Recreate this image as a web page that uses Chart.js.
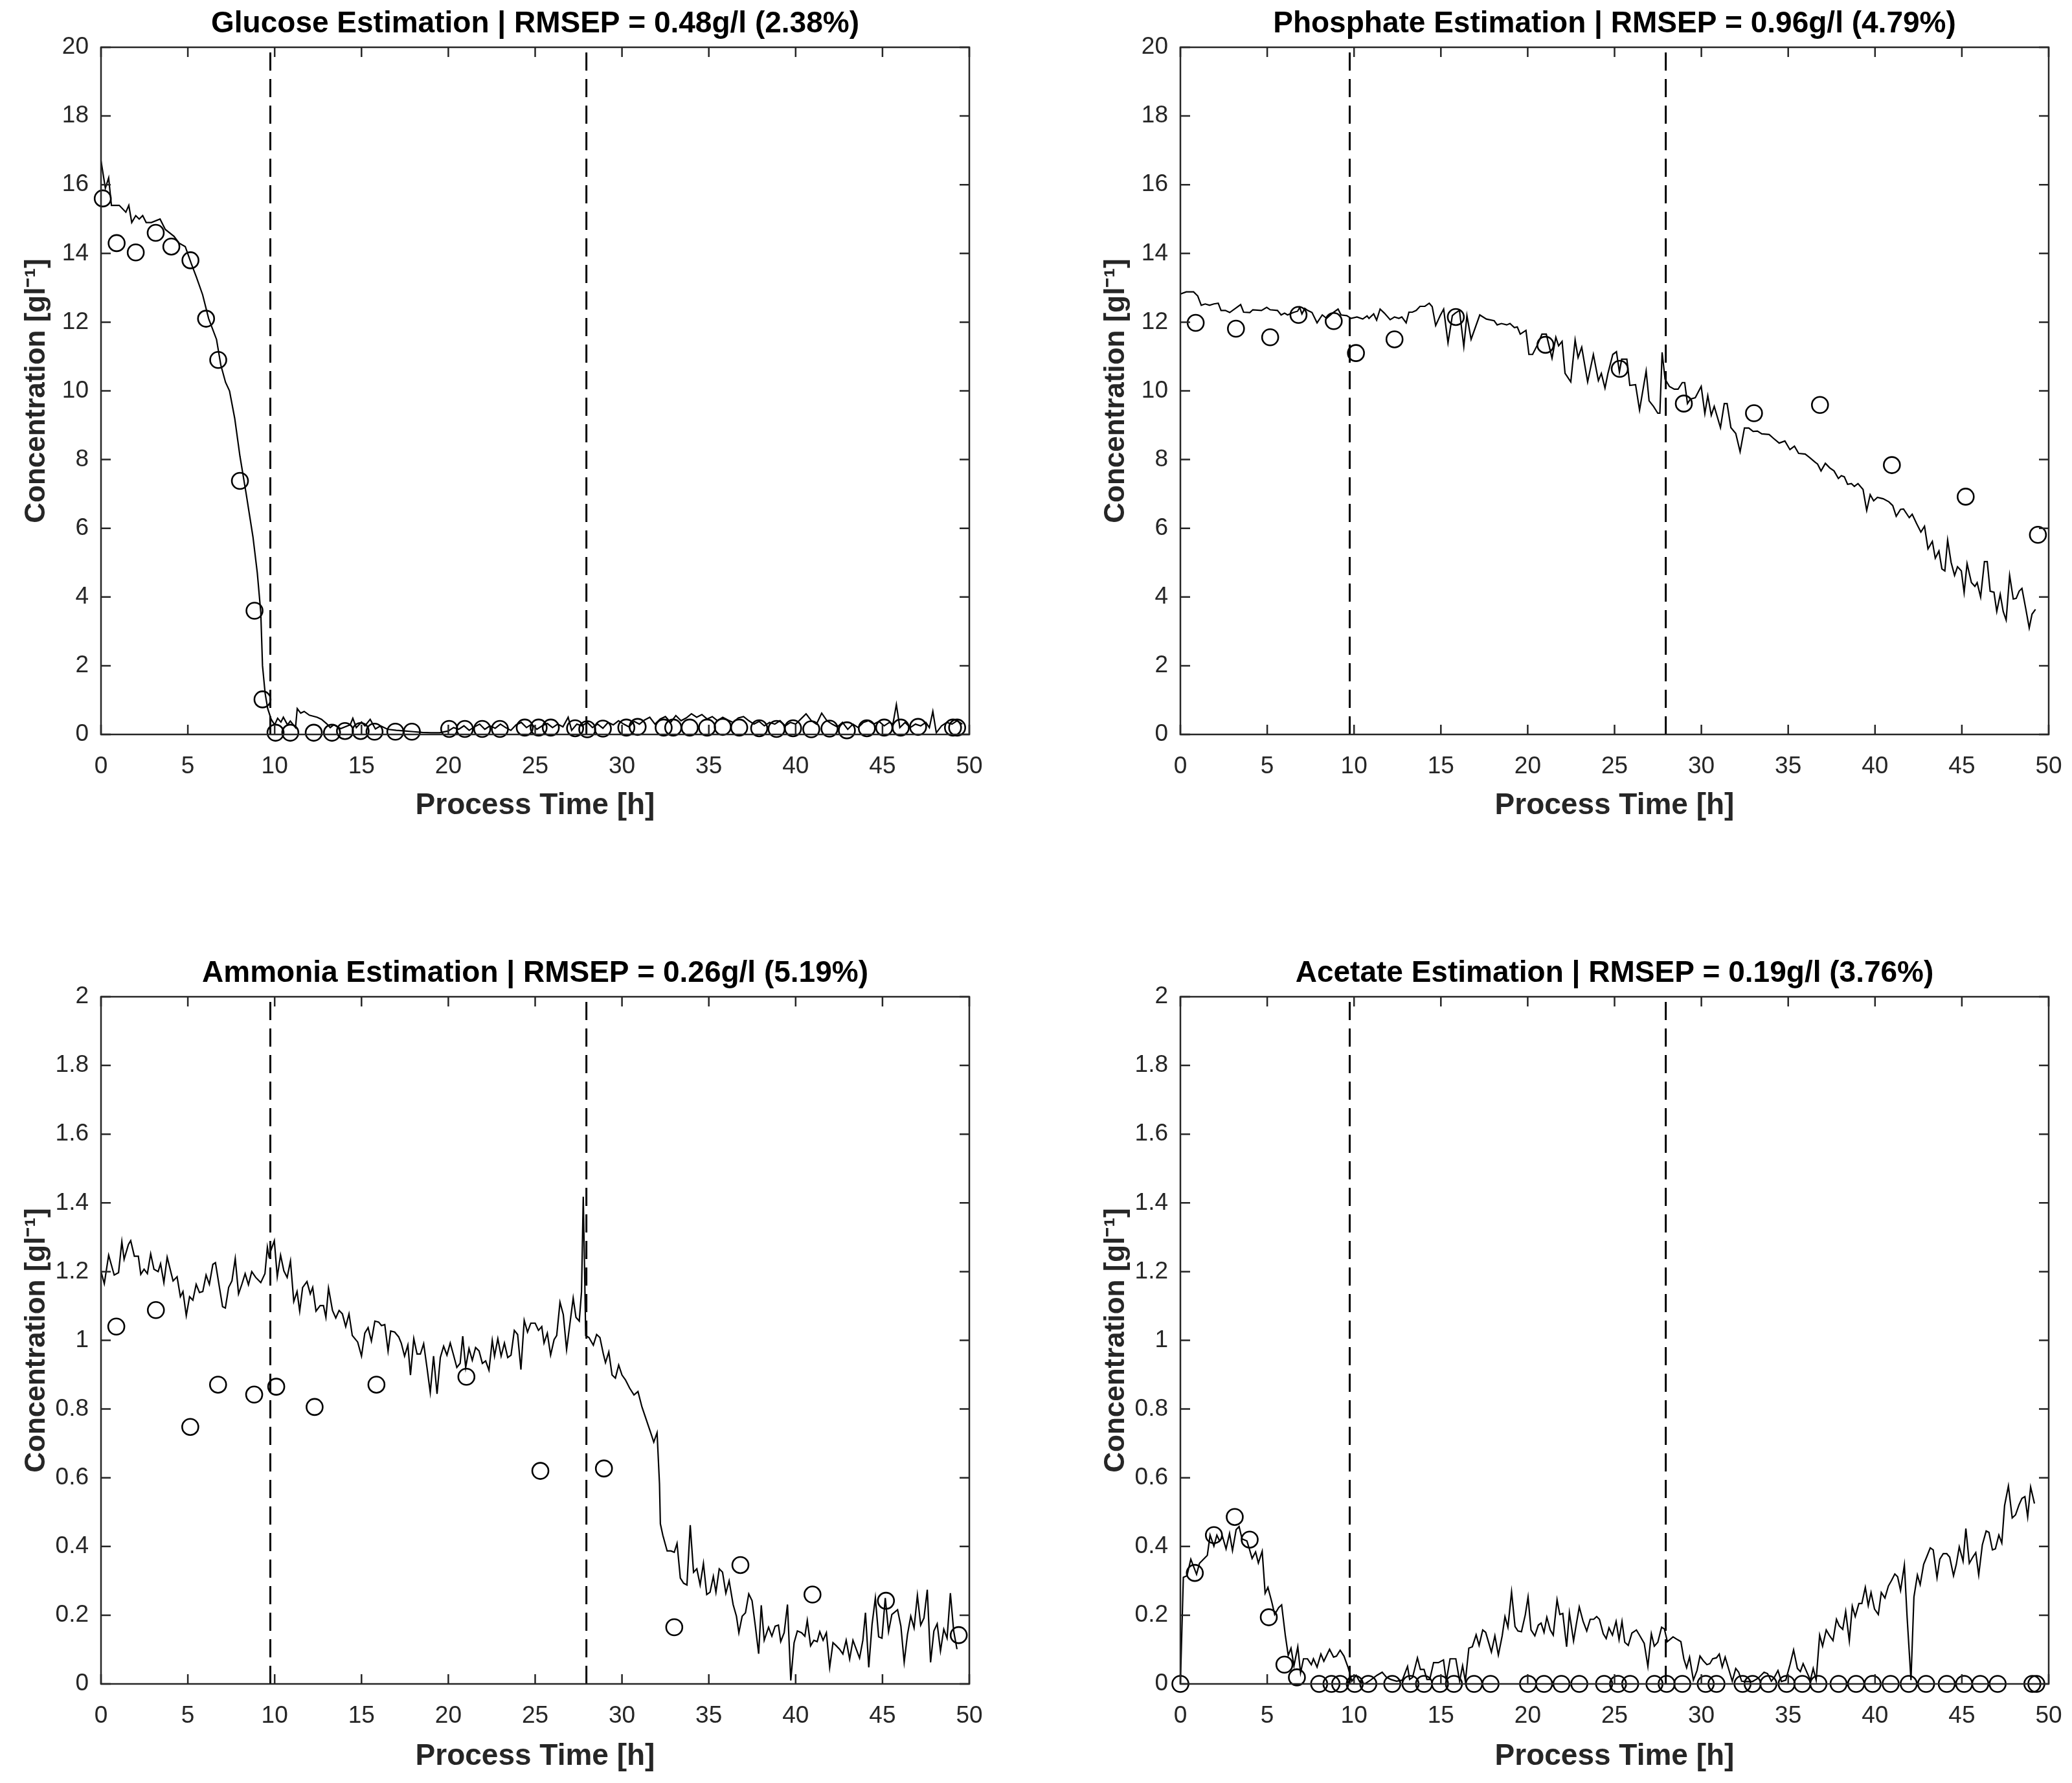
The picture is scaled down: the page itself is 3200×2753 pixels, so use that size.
<!DOCTYPE html>
<html lang="en">
<head>
<meta charset="UTF-8">
<title>Soft-sensor estimation of glucose, phosphate, ammonia and acetate</title>
<script src="https://cdn.jsdelivr.net/npm/chart.js"></script>
<style>
    html, body {
        margin: 0;
        padding: 0;
        background: #fff;
        overflow: hidden;
    }
    #page {
        position: relative;
        width: 3200px;
        height: 2753px;
        background: #fff;
        overflow: hidden;
    }
    #page canvas {
        position: absolute;
    }
</style>
</head>
<body>
<div id="page">
    <canvas id="glucose" width="1552" height="1300" style="left:0;top:0"></canvas>
    <canvas id="phosphate" width="1552" height="1300" style="left:1667px;top:0"></canvas>
    <canvas id="ammonia" width="1552" height="1287" style="left:0;top:1466px"></canvas>
    <canvas id="acetate" width="1552" height="1287" style="left:1667px;top:1466px"></canvas>
</div>

<script>
// phase boundaries [h]
const phaseBounds = [9.75, 27.95];

// ---- glucose ----
const glucoseTime = [0, 0.25, 0.44, 0.6, 1.05, 1.43, 1.6, 1.77, 2.0, 2.2, 2.4, 2.6, 2.9, 3.4, 3.7, 4.2, 4.5, 4.85, 5.2, 5.5,
    5.85, 6.2, 6.65, 6.9, 7.17, 7.4, 7.7, 8.0, 8.36, 8.75, 9.0, 9.2, 9.3, 9.45, 9.6, 9.8, 10.0, 10.17, 10.36, 10.5,
    10.74, 10.9, 11.2, 11.3, 11.5, 11.7, 12.0, 12.45, 12.7, 13.0, 13.2, 13.4, 13.8, 14.35, 14.5, 14.7, 15.0, 15.2, 15.5, 15.8,
    16.1, 16.5, 17.0, 17.5, 18.0, 18.5, 19.0, 19.5, 20.0, 20.3, 20.6, 20.9, 21.2, 21.5, 21.8, 22.1, 22.4, 22.7, 23.0, 23.3,
    23.6, 23.9, 24.2, 24.5, 24.8, 25.1, 25.4, 25.7, 26.0, 26.3, 26.6, 26.9, 27.1, 27.4, 27.7, 28.0, 28.3, 28.6, 28.9, 29.2,
    29.5, 29.8, 30.1, 30.4, 30.7, 31.0, 31.3, 31.6, 31.9, 32.2, 32.5, 32.8, 33.1, 33.4, 33.7, 34.0, 34.3, 34.6, 34.9, 35.2,
    35.5, 35.8, 36.1, 36.4, 36.7, 37.0, 37.3, 37.6, 37.9, 38.2, 38.5, 38.8, 39.1, 39.4, 39.7, 40.0, 40.3, 40.6, 40.9, 41.2,
    41.5, 41.8, 42.1, 42.4, 42.7, 43.0, 43.3, 43.6, 43.9, 44.2, 44.5, 44.8, 45.1, 45.4, 45.6, 45.8, 46.0, 46.3, 46.6, 46.9,
    47.2, 47.5, 47.7, 47.9, 48.1, 48.4, 48.7, 49.0, 49.3, 49.6];
const glucoseEst = [16.7, 15.9, 16.2, 15.4, 15.4, 15.2, 15.4, 14.9, 15.1, 15.0, 15.1, 14.9, 14.9, 15.0, 14.7, 14.5, 14.3, 14.2, 13.7, 13.3,
    12.8, 12.1, 11.5, 10.75, 10.25, 10.0, 9.2, 8.1, 7.0, 5.75, 4.7, 3.55, 2.0, 1.2, 0.75, 0.44, 0.28, 0.47, 0.36, 0.5,
    0.28, 0.39, 0.2, 0.75, 0.62, 0.67, 0.56, 0.5, 0.44, 0.31, 0.2, 0.28, 0.17, 0.28, 0.47, 0.2, 0.36, 0.25, 0.44, 0.16,
    0.25, 0.15, 0.12, 0.1, 0.08, 0.06, 0.05, 0.05, 0.1, 0.2, 0.15, 0.25, 0.12, 0.22, 0.3, 0.15, 0.25, 0.18, 0.3, 0.2,
    0.12, 0.28, 0.35, 0.2, 0.3, 0.15, 0.25, 0.32, 0.2, 0.3, 0.22, 0.5, 0.12, 0.3, 0.25, 0.35, 0.2, 0.3, 0.18, 0.35,
    0.28, 0.4, 0.3, 0.22, 0.38, 0.3, 0.42, 0.5, 0.3, 0.45, 0.52, 0.35, 0.55, 0.4, 0.48, 0.6, 0.5, 0.58, 0.45, 0.52,
    0.4, 0.5, 0.42, 0.35, 0.48, 0.52, 0.4, 0.3, 0.38, 0.25, 0.35, 0.3, 0.4, 0.25, 0.35, 0.3, 0.45, 0.6, 0.4, 0.3,
    0.62, 0.4, 0.3, 0.22, 0.35, 0.15, 0.3, 0.2, 0.35, 0.4, 0.3, 0.38, 0.25, 0.35, 0.3, 0.87, 0.2, 0.35, 0.2, 0.3,
    0.25, 0.35, 0.2, 0.67, 0.05, 0.25, 0.35, 0.3, 0.4, 0.3];
const glucoseMeasTime = [0.1, 0.9, 2.0, 3.15, 4.05, 5.15, 6.05, 6.75, 8.0, 8.84, 9.3, 10.05, 10.9, 12.25, 13.3, 14.05, 14.95, 15.75, 16.95, 17.9,
    20.05, 20.95, 21.95, 22.97, 24.4, 25.2, 25.9, 27.3, 28.0, 28.9, 30.25, 30.9, 32.4, 32.95, 33.9, 34.9, 35.8, 36.75, 37.9, 38.9,
    39.85, 40.9, 41.95, 42.95, 44.1, 45.1, 46.05, 47.05, 49.06, 49.3];
const glucoseMeas = [15.6, 14.3, 14.03, 14.6, 14.2, 13.8, 12.1, 10.9, 7.38, 3.6, 1.02, 0.05, 0.05, 0.05, 0.05, 0.1, 0.1, 0.08, 0.08, 0.08,
    0.16, 0.16, 0.16, 0.16, 0.2, 0.2, 0.2, 0.18, 0.15, 0.17, 0.2, 0.22, 0.2, 0.2, 0.2, 0.2, 0.22, 0.2, 0.18, 0.16,
    0.18, 0.15, 0.17, 0.12, 0.18, 0.2, 0.2, 0.22, 0.2, 0.2];

// ---- phosphate ----
const phosphateTime = [0, 0.34, 0.76, 1.0, 1.2, 1.43, 1.68, 1.93, 2.18, 2.34, 2.59, 2.84, 3.17, 3.47, 3.64, 4.0, 4.17, 4.67, 4.97, 5.17,
    5.59, 5.8, 6.0, 6.17, 6.5, 6.75, 6.87, 7.0, 7.16, 7.33, 7.58, 7.87, 8.17, 8.42, 8.75, 9.08, 9.25, 9.58, 9.83, 10.17,
    10.5, 10.75, 10.86, 11.13, 11.3, 11.5, 11.75, 12.08, 12.33, 12.58, 12.75, 13.0, 13.16, 13.36, 13.58, 13.8, 14.08, 14.33, 14.5, 14.7,
    14.96, 15.16, 15.41, 15.66, 15.82, 16.07, 16.32, 16.5, 16.74, 17.24, 17.62, 18.07, 18.24, 18.49, 18.79, 18.98, 19.23, 19.4, 19.57, 19.9,
    20.07, 20.28, 20.57, 20.82, 21.07, 21.4, 21.62, 21.78, 21.98, 22.15, 22.48, 22.73, 22.9, 23.11, 23.45, 23.78, 24.07, 24.24, 24.45, 24.62,
    24.9, 25.11, 25.28, 25.41, 25.71, 25.88, 26.21, 26.44, 26.82, 26.99, 27.24, 27.49, 27.61, 27.74, 27.91, 28.16, 28.44, 28.66, 28.9, 29.04,
    29.2, 29.37, 29.65, 29.99, 30.2, 30.37, 30.57, 30.74, 31.1, 31.32, 31.48, 31.7, 31.98, 32.23, 32.48, 32.73, 32.98, 33.23, 33.48, 33.9,
    34.15, 34.48, 34.81, 35.1, 35.36, 35.6, 35.98, 36.23, 36.56, 36.69, 36.89, 37.14, 37.39, 37.64, 37.89, 38.06, 38.23, 38.42, 38.64, 38.81,
    39.02, 39.31, 39.52, 39.72, 39.92, 40.14, 40.47, 40.8, 41.02, 41.22, 41.47, 41.64, 41.97, 42.14, 42.39, 42.64, 42.85, 43.05, 43.3, 43.47,
    43.68, 43.85, 44.02, 44.18, 44.38, 44.58, 44.75, 44.97, 45.13, 45.3, 45.55, 45.75, 45.88, 46.08, 46.3, 46.46, 46.63, 46.85, 47.01, 47.21,
    47.38, 47.55, 47.75, 47.96, 48.13, 48.3, 48.46, 48.68, 48.88, 49.04, 49.24];
const phosphateEst = [12.82, 12.88, 12.88, 12.76, 12.49, 12.53, 12.49, 12.53, 12.55, 12.34, 12.34, 12.28, 12.4, 12.51, 12.29, 12.28, 12.36, 12.34, 12.43, 12.36,
    12.34, 12.21, 12.26, 12.21, 12.28, 12.32, 12.43, 12.24, 12.4, 12.34, 12.28, 11.98, 12.21, 12.11, 12.26, 12.38, 12.21, 12.19, 12.11, 12.15,
    12.09, 12.18, 12.11, 12.24, 12.06, 12.38, 12.26, 12.07, 12.15, 12.11, 12.15, 11.98, 12.29, 12.29, 12.34, 12.46, 12.46, 12.55, 12.45, 11.9,
    12.19, 12.38, 11.4, 12.19, 12.26, 12.34, 11.29, 12.19, 11.5, 12.21, 12.09, 12.04, 11.92, 11.96, 11.92, 11.96, 11.84, 11.86, 11.65, 11.76,
    11.06, 11.06, 11.35, 11.65, 11.65, 10.95, 11.56, 11.31, 11.44, 10.51, 10.26, 11.48, 10.97, 11.27, 10.26, 11.06, 10.3, 10.51, 10.08, 10.51,
    11.06, 11.14, 10.55, 10.92, 10.92, 10.16, 10.18, 9.44, 10.58, 9.71, 9.55, 9.35, 9.35, 11.12, 10.34, 10.13, 10.05, 10.05, 10.24, 10.24,
    9.63, 9.76, 9.8, 10.13, 9.34, 9.86, 9.29, 9.55, 8.93, 9.63, 9.63, 8.93, 8.76, 8.23, 8.92, 8.92, 8.82, 8.83, 8.75, 8.73,
    8.62, 8.48, 8.54, 8.29, 8.39, 8.18, 8.16, 8.06, 7.92, 7.87, 7.67, 7.89, 7.76, 7.67, 7.45, 7.53, 7.5, 7.28, 7.3, 7.22,
    7.3, 7.13, 6.52, 6.98, 6.8, 6.9, 6.86, 6.77, 6.66, 6.35, 6.55, 6.56, 6.31, 6.41, 6.14, 5.89, 6.06, 5.4, 5.62, 5.13,
    5.34, 4.82, 4.76, 5.66, 5.01, 4.63, 4.88, 4.76, 4.13, 4.97, 4.42, 4.31, 4.42, 4.0, 5.03, 5.03, 4.17, 4.14, 3.58, 4.08,
    3.58, 3.33, 4.63, 3.94, 3.96, 4.17, 4.25, 3.66, 3.1, 3.5, 3.64];
const phosphateMeasTime = [0.88, 3.2, 5.17, 6.8, 8.83, 10.11, 12.33, 15.86, 21.02, 25.3, 28.99, 33.03, 36.83, 40.97, 45.22, 49.38];
const phosphateMeas = [11.98, 11.81, 11.56, 12.21, 12.03, 11.1, 11.5, 12.15, 11.34, 10.64, 9.63, 9.35, 9.59, 7.84, 6.92, 5.81];

// ---- ammonia ----
const ammoniaTime = [0, 0.19, 0.44, 0.76, 1.01, 1.2, 1.33, 1.58, 1.71, 1.92, 2.15, 2.29, 2.48, 2.67, 2.86, 3.05, 3.29, 3.43, 3.62, 3.81,
    4.15, 4.38, 4.57, 4.72, 4.91, 5.1, 5.29, 5.48, 5.67, 5.86, 6.05, 6.24, 6.44, 6.59, 6.82, 7.0, 7.16, 7.35, 7.54, 7.73,
    7.92, 8.11, 8.3, 8.49, 8.68, 8.91, 9.2, 9.44, 9.58, 9.67, 9.83, 9.98, 10.15, 10.34, 10.53, 10.72, 10.91, 11.1, 11.29, 11.44,
    11.61, 11.86, 12.05, 12.19, 12.38, 12.62, 12.81, 12.95, 13.1, 13.33, 13.52, 13.71, 13.9, 14.09, 14.28, 14.47, 14.78, 15.0, 15.19, 15.38,
    15.57, 15.77, 15.99, 16.15, 16.34, 16.53, 16.68, 16.91, 17.14, 17.29, 17.48, 17.67, 17.82, 18.01, 18.2, 18.39, 18.58, 18.77, 18.96, 19.15,
    19.35, 19.54, 19.73, 19.92, 20.11, 20.3, 20.49, 20.68, 20.83, 21.0, 21.19, 21.38, 21.57, 21.77, 21.96, 22.15, 22.34, 22.53, 22.66, 22.85,
    23.04, 23.23, 23.42, 23.61, 23.8, 23.99, 24.18, 24.37, 24.56, 24.75, 25.0, 25.19, 25.38, 25.51, 25.7, 25.89, 26.09, 26.24, 26.43, 26.62,
    26.81, 27.0, 27.19, 27.35, 27.54, 27.67, 27.77, 27.86, 27.91, 28.1, 28.35, 28.54, 28.73, 28.92, 29.05, 29.24, 29.43, 29.62, 29.81, 30.0,
    30.2, 30.44, 30.69, 30.92, 31.15, 31.4, 31.64, 31.83, 32.02, 32.16, 32.21, 32.35, 32.6, 32.82, 33.01, 33.17, 33.36, 33.55, 33.74, 33.93,
    34.12, 34.31, 34.5, 34.69, 34.88, 35.07, 35.26, 35.41, 35.6, 35.79, 35.98, 36.17, 36.4, 36.59, 36.73, 36.92, 37.11, 37.3, 37.49, 37.68,
    37.87, 38.02, 38.19, 38.44, 38.63, 38.82, 39.01, 39.14, 39.34, 39.53, 39.72, 39.91, 40.1, 40.34, 40.53, 40.67, 40.86, 41.05, 41.24, 41.39,
    41.58, 41.77, 41.96, 42.15, 42.34, 42.53, 42.72, 42.91, 43.11, 43.3, 43.49, 43.68, 43.87, 44.02, 44.21, 44.4, 44.59, 44.78, 44.97, 45.16,
    45.35, 45.54, 45.87, 46.06, 46.25, 46.44, 46.63, 46.82, 47.01, 47.2, 47.39, 47.58, 47.77, 47.96, 48.15, 48.34, 48.53, 48.72, 48.91, 49.1,
    49.29];
const ammoniaEst = [1.2, 1.165, 1.248, 1.19, 1.197, 1.287, 1.236, 1.279, 1.29, 1.245, 1.245, 1.192, 1.207, 1.194, 1.252, 1.207, 1.2, 1.223, 1.168, 1.242,
    1.173, 1.185, 1.127, 1.142, 1.072, 1.127, 1.117, 1.163, 1.139, 1.142, 1.19, 1.163, 1.221, 1.226, 1.154, 1.098, 1.094, 1.154, 1.173, 1.238,
    1.135, 1.163, 1.194, 1.162, 1.2, 1.183, 1.168, 1.194, 1.271, 1.245, 1.269, 1.29, 1.185, 1.248, 1.202, 1.183, 1.231, 1.113, 1.142, 1.085,
    1.154, 1.171, 1.135, 1.154, 1.085, 1.101, 1.101, 1.067, 1.152, 1.087, 1.065, 1.087, 1.077, 1.04, 1.077, 1.014, 0.995, 0.954, 1.021, 1.037,
    0.998, 1.056, 1.053, 1.043, 1.046, 0.969, 1.027, 1.024, 1.01, 0.992, 0.954, 0.986, 0.899, 1.005, 0.96, 0.96, 0.99, 0.921, 0.848, 0.954,
    0.844, 0.95, 0.983, 0.957, 0.992, 0.957, 0.921, 0.933, 1.012, 0.921, 0.976, 0.942, 0.979, 0.969, 0.933, 0.94, 0.913, 1.0, 0.954, 1.005,
    0.954, 0.992, 0.95, 0.957, 1.029, 1.017, 0.915, 1.058, 1.024, 1.05, 1.05, 1.029, 1.04, 0.992, 1.021, 0.957, 1.002, 1.014, 1.111, 1.075,
    0.973, 1.048, 1.123, 1.067, 1.056, 1.142, 1.418, 1.163, 1.014, 1.008, 0.986, 1.017, 1.008, 0.962, 0.935, 0.966, 0.899, 0.89, 0.928, 0.899,
    0.885, 0.861, 0.841, 0.851, 0.806, 0.769, 0.733, 0.704, 0.731, 0.582, 0.466, 0.433, 0.387, 0.387, 0.383, 0.409, 0.308, 0.293, 0.288, 0.462,
    0.325, 0.335, 0.288, 0.351, 0.26, 0.267, 0.313, 0.267, 0.335, 0.325, 0.264, 0.3, 0.231, 0.197, 0.149, 0.197, 0.207, 0.262, 0.242, 0.168,
    0.088, 0.229, 0.127, 0.165, 0.139, 0.168, 0.171, 0.123, 0.149, 0.231, 0.01, 0.12, 0.154, 0.149, 0.139, 0.185, 0.111, 0.127, 0.123, 0.152,
    0.127, 0.149, 0.048, 0.12, 0.111, 0.101, 0.087, 0.127, 0.072, 0.127, 0.101, 0.075, 0.127, 0.207, 0.048, 0.173, 0.25, 0.137, 0.133, 0.25,
    0.152, 0.202, 0.216, 0.168, 0.063, 0.144, 0.197, 0.163, 0.258, 0.171, 0.192, 0.274, 0.063, 0.154, 0.175, 0.096, 0.159, 0.133, 0.264, 0.154,
    0.101];
const ammoniaMeasTime = [0.88, 3.16, 5.14, 6.74, 8.82, 10.09, 12.3, 15.86, 21.04, 25.3, 28.96, 33.01, 36.82, 40.97, 45.2, 49.39];
const ammoniaMeas = [1.04, 1.088, 0.748, 0.871, 0.842, 0.865, 0.806, 0.871, 0.894, 0.62, 0.627, 0.165, 0.346, 0.26, 0.242, 0.142];

// ---- acetate ----
const acetateTime = [0, 0.17, 0.38, 0.6, 0.93, 1.1, 1.33, 1.55, 1.71, 1.93, 2.1, 2.26, 2.43, 2.63, 2.83, 3.0, 3.21, 3.38, 3.55, 3.83,
    3.96, 4.13, 4.33, 4.49, 4.71, 4.88, 5.04, 5.26, 5.43, 5.66, 5.83, 6.04, 6.21, 6.37, 6.54, 6.76, 6.92, 7.09, 7.32, 7.54,
    7.66, 7.87, 8.09, 8.26, 8.59, 8.82, 8.99, 9.2, 9.42, 9.65, 9.87, 10.12, 10.32, 10.62, 10.95, 11.32, 11.62, 11.87, 12.12, 12.45,
    12.78, 13.08, 13.2, 13.37, 13.65, 13.82, 14.03, 14.2, 14.36, 14.58, 14.86, 15.15, 15.31, 15.53, 15.86, 16.08, 16.25, 16.41, 16.61, 16.81,
    17.03, 17.2, 17.41, 17.58, 17.91, 18.11, 18.31, 18.53, 18.69, 18.86, 19.07, 19.27, 19.44, 19.64, 19.86, 20.02, 20.19, 20.41, 20.61, 20.77,
    20.94, 21.1, 21.3, 21.47, 21.69, 21.85, 22.02, 22.24, 22.4, 22.64, 22.8, 22.97, 23.19, 23.4, 23.6, 23.8, 23.97, 24.13, 24.35, 24.52,
    24.68, 24.88, 25.09, 25.26, 25.43, 25.59, 25.79, 26.0, 26.26, 26.46, 26.71, 26.92, 27.12, 27.29, 27.49, 27.71, 27.87, 28.04, 28.37, 28.62,
    28.82, 28.99, 29.15, 29.32, 29.54, 29.75, 29.92, 30.12, 30.32, 30.49, 30.65, 30.87, 31.03, 31.2, 31.37, 31.58, 31.78, 31.98, 32.15, 32.32,
    32.62, 32.95, 33.28, 33.61, 33.81, 34.03, 34.2, 34.41, 34.61, 34.86, 35.11, 35.31, 35.53, 35.7, 35.86, 36.11, 36.28, 36.44, 36.61, 36.81,
    36.98, 37.19, 37.36, 37.58, 37.78, 37.94, 38.14, 38.31, 38.52, 38.69, 38.86, 39.07, 39.24, 39.44, 39.61, 39.77, 39.97, 40.19, 40.36, 40.57,
    40.77, 40.94, 41.14, 41.3, 41.47, 41.69, 41.85, 42.07, 42.24, 42.44, 42.6, 42.8, 42.97, 43.18, 43.35, 43.57, 43.73, 43.93, 44.13, 44.3,
    44.52, 44.68, 44.85, 45.07, 45.23, 45.43, 45.63, 45.8, 45.97, 46.18, 46.4, 46.56, 46.76, 46.93, 47.13, 47.3, 47.46, 47.68, 47.9, 48.09,
    48.29, 48.46, 48.63, 48.79, 48.96, 49.18];
const acetateEst = [0, 0.31, 0.315, 0.363, 0.319, 0.351, 0.363, 0.374, 0.433, 0.401, 0.433, 0.416, 0.428, 0.393, 0.438, 0.388, 0.449, 0.458, 0.422, 0.416,
    0.395, 0.365, 0.384, 0.352, 0.386, 0.264, 0.281, 0.239, 0.202, 0.222, 0.23, 0.142, 0.083, 0.104, 0.053, 0.108, 0.032, 0.073, 0.073, 0.056,
    0.073, 0.049, 0.087, 0.066, 0.101, 0.078, 0.081, 0.098, 0.081, 0.049, 0.008, 0.025, 0.007, 0, 0.011, 0.025, 0.034, 0.019, 0.013, 0.008,
    0.011, 0.051, 0.013, 0.019, 0.076, 0.042, 0.042, 0.013, 0.013, 0.062, 0.062, 0.07, 0.008, 0.073, 0.073, 0.008, 0.053, 0.008, 0.104, 0.108,
    0.143, 0.112, 0.157, 0.15, 0.093, 0.14, 0.084, 0.14, 0.196, 0.165, 0.268, 0.167, 0.154, 0.152, 0.201, 0.253, 0.157, 0.14, 0.171, 0.177,
    0.15, 0.194, 0.157, 0.142, 0.245, 0.202, 0.205, 0.108, 0.207, 0.125, 0.174, 0.224, 0.182, 0.154, 0.188, 0.188, 0.196, 0.188, 0.146, 0.132,
    0.163, 0.142, 0.182, 0.129, 0.182, 0.121, 0.112, 0.148, 0.157, 0.14, 0.118, 0.051, 0.146, 0.11, 0.121, 0.165, 0.16, 0.123, 0.137, 0.129,
    0.123, 0.073, 0.047, 0.078, 0.011, 0.039, 0.081, 0.067, 0.056, 0.059, 0.073, 0.076, 0.087, 0.049, 0.078, 0.042, 0.008, 0.045, 0.034, 0.008,
    0.007, 0.007, 0.017, 0.034, 0.03, 0.008, 0.019, 0.039, 0.007, 0.011, 0.057, 0.099, 0.045, 0.036, 0.059, 0.03, 0.011, 0.045, 0.011, 0.142,
    0.11, 0.157, 0.142, 0.126, 0.188, 0.169, 0.159, 0.211, 0.125, 0.226, 0.196, 0.234, 0.234, 0.281, 0.228, 0.266, 0.218, 0.202, 0.266, 0.25,
    0.285, 0.3, 0.32, 0.312, 0.272, 0.346, 0.192, 0.011, 0.253, 0.317, 0.289, 0.348, 0.369, 0.396, 0.39, 0.309, 0.363, 0.379, 0.379, 0.369,
    0.315, 0.348, 0.399, 0.357, 0.452, 0.351, 0.369, 0.382, 0.317, 0.405, 0.445, 0.441, 0.39, 0.393, 0.433, 0.41, 0.519, 0.576, 0.483, 0.492,
    0.521, 0.54, 0.545, 0.486, 0.573, 0.525];
const acetateMeasTime = [0, 0.83, 1.93, 3.13, 3.99, 5.09, 5.99, 6.71, 7.99, 8.7, 9.2, 10.04, 10.82, 12.2, 13.25, 14.03, 14.95, 15.75, 16.91, 17.86,
    20.02, 20.94, 21.94, 22.97, 24.4, 25.2, 25.9, 27.3, 28.0, 28.9, 30.25, 30.87, 32.37, 32.95, 33.86, 34.91, 35.81, 36.74, 37.9, 38.91,
    39.86, 40.9, 41.94, 42.94, 44.13, 45.13, 46.06, 47.06, 49.06, 49.29];
const acetateMeas = [0, 0.323, 0.433, 0.486, 0.42, 0.194, 0.056, 0.019, 0, 0, 0, 0, 0, 0, 0, 0, 0, 0, 0, 0,
    0, 0, 0, 0, 0, 0, 0, 0, 0, 0, 0, 0, 0, 0, 0, 0, 0, 0, 0, 0,
    0, 0, 0, 0, 0, 0, 0, 0, 0, 0];

const FONT = "'Liberation Sans', Arial, Helvetica, sans-serif";
const AXIS_COLOR = '#262626';

const toPoints = (xs, ys) => xs.map((x, i) => ({x: x, y: ys[i]}));

// MATLAB style box with inward ticks on all four sides
const boxPlugin = {
    id: 'matlabBox',
    afterDraw(chart) {
        const {ctx, chartArea: a, scales: {x, y}} = chart;
        const len = 15;
        ctx.save();
        ctx.strokeStyle = AXIS_COLOR;
        ctx.lineWidth = 2.5;
        ctx.beginPath();
        x.ticks.forEach(t => {
            const px = x.getPixelForValue(t.value);
            ctx.moveTo(px, a.bottom);
            ctx.lineTo(px, a.bottom - len);
            ctx.moveTo(px, a.top);
            ctx.lineTo(px, a.top + len);
        });
        y.ticks.forEach(t => {
            const py = y.getPixelForValue(t.value);
            ctx.moveTo(a.left, py);
            ctx.lineTo(a.left + len, py);
            ctx.moveTo(a.right, py);
            ctx.lineTo(a.right - len, py);
        });
        ctx.stroke();
        ctx.strokeRect(a.left, a.top, a.right - a.left, a.bottom - a.top);
        ctx.restore();
    }
};

function makePanel(id, title, yMax, yStep, estT, estV, measT, measV, xTitlePad) {
    const canvas = document.getElementById(id);
    const axisHeight = canvas.height - 1134;

    const phaseSets = phaseBounds.map(p => ({
        data: [{x: p, y: 0}, {x: p, y: yMax}],
        showLine: true,
        borderColor: '#000',
        borderWidth: 3,
        borderDash: [28, 13],
        pointRadius: 0
    }));

    return new Chart(canvas, {
        type: 'scatter',
        data: {
            datasets: [
                {
                    data: toPoints(estT, estV),
                    showLine: true,
                    borderColor: '#000',
                    borderWidth: 2.2,
                    pointRadius: 0,
                    tension: 0
                },
                {
                    data: toPoints(measT, measV),
                    showLine: false,
                    pointStyle: 'circle',
                    pointRadius: 12.5,
                    borderColor: '#000',
                    borderWidth: 2.6,
                    backgroundColor: 'rgba(0,0,0,0)',
                    clip: false
                },
                ...phaseSets
            ]
        },
        options: {
            responsive: false,
            animation: false,
            devicePixelRatio: 1,
            // right padding leaves room for the last x tick label, so the plot keeps its width
            layout: {padding: {left: 0, right: 55, top: 0, bottom: 0}},
            plugins: {
                legend: {display: false},
                tooltip: {enabled: false},
                title: {
                    display: true,
                    fullSize: false,
                    text: title,
                    color: '#000',
                    font: {family: FONT, size: 46, weight: 'bold', lineHeight: 1.2},
                    padding: {top: 9.4, bottom: 8.4}
                }
            },
            scales: {
                x: {
                    type: 'linear',
                    min: 0,
                    max: 50,
                    grid: {display: false, drawTicks: false},
                    border: {display: false},
                    ticks: {
                        stepSize: 5,
                        autoSkip: false,
                        maxRotation: 0,
                        padding: 28,
                        color: AXIS_COLOR,
                        font: {family: FONT, size: 37}
                    },
                    title: {
                        display: true,
                        text: 'Process Time [h]',
                        color: AXIS_COLOR,
                        font: {family: FONT, size: 46, weight: 'bold', lineHeight: 1.2},
                        padding: {top: 0, bottom: xTitlePad}
                    },
                    afterFit: scale => { scale.height = axisHeight; }
                },
                y: {
                    type: 'linear',
                    min: 0,
                    max: yMax,
                    grid: {display: false, drawTicks: false},
                    border: {display: false},
                    ticks: {
                        stepSize: yStep,
                        autoSkip: false,
                        padding: 19,
                        color: AXIS_COLOR,
                        font: {family: FONT, size: 37},
                        callback: v => String(Math.round(v * 10) / 10)
                    },
                    title: {
                        display: true,
                        text: 'Concentration [gl\u207B\u00B9]',
                        color: AXIS_COLOR,
                        font: {family: FONT, size: 44, weight: 'bold', lineHeight: 1.2},
                        padding: {top: 30.6, bottom: 0}
                    },
                    afterFit: scale => { scale.width = 156; }
                }
            }
        },
        plugins: [boxPlugin]
    });
}

makePanel('glucose', 'Glucose Estimation | RMSEP = 0.48g/l (2.38%)', 20, 2,
    glucoseTime, glucoseEst, glucoseMeasTime, glucoseMeas, 28.4);
makePanel('phosphate', 'Phosphate Estimation | RMSEP = 0.96g/l (4.79%)', 20, 2,
    phosphateTime, phosphateEst, phosphateMeasTime, phosphateMeas, 28.4);
makePanel('ammonia', 'Ammonia Estimation | RMSEP = 0.26g/l (5.19%)', 2, 0.2,
    ammoniaTime, ammoniaEst, ammoniaMeasTime, ammoniaMeas, 13.4);
makePanel('acetate', 'Acetate Estimation | RMSEP = 0.19g/l (3.76%)', 2, 0.2,
    acetateTime, acetateEst, acetateMeasTime, acetateMeas, 13.4);
</script>
</body>
</html>
